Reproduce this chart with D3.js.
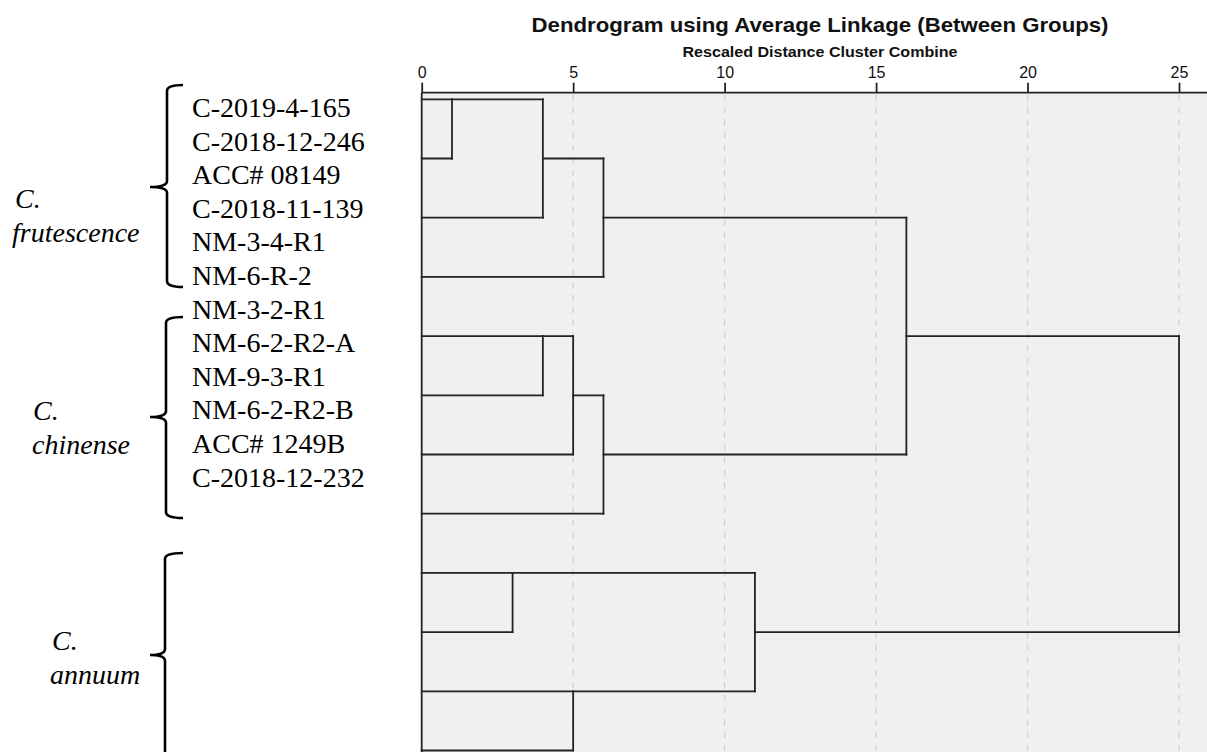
<!DOCTYPE html>
<html><head><meta charset="utf-8">
<script src="https://cdn.jsdelivr.net/npm/d3@7"></script>
<style>body{margin:0;background:#fff}svg{display:block}</style>
</head><body><svg id="c" width="1207" height="752"></svg>
<script>
// ---------- DATA ----------
const tickValues = [0, 5, 10, 15, 20, 25];
const leafCount = 12;                                  // dendrogram leaves (rows, top to bottom)
// merges in order; ids 0..11 are leaves, id 12+k is merge k
const mergeA    = [0, 12, 13, 4, 15, 16, 14, 8, 10, 19, 18];
const mergeB    = [1,  2,  3, 5,  6,  7, 17, 9, 11, 20, 21];
const mergeDist = [1,  4,  6, 4,  5,  6, 16, 3,  5, 11, 25];
const sampleLabels = ["C-2019-4-165", "C-2018-12-246", "ACC# 08149", "C-2018-11-139", "NM-3-4-R1", "NM-6-R-2",
                      "NM-3-2-R1", "NM-6-2-R2-A", "NM-9-3-R1", "NM-6-2-R2-B", "ACC# 1249B", "C-2018-12-232"];
const speciesGenus = ["C.", "C.", "C."];
const speciesName  = ["frutescence", "chinense", "annuum"];
const titleText = "Dendrogram using Average Linkage (Between Groups)";
const subtitleText = "Rescaled Distance Cluster Combine";

// ---------- LAYOUT ----------
const W = 1207, H = 752;
const svg = d3.select("#c");
const x = d3.scaleLinear().domain([0, 25]).range([421.7, 1179]);
const y = d3.scaleLinear().domain([0, leafCount - 1]).range([99.3, 750.5]);
const labelY = d3.scaleLinear().domain([0, sampleLabels.length - 1]).range([117, 486.6]);
const axisY = 92.7;
const lineColor = "#222";
const lw = 1.8;

// node rows and distances
const row = [], dist = [];
for (let i = 0; i < leafCount; i++) { row[i] = i; dist[i] = 0; }
mergeA.forEach((a, k) => {
  const b = mergeB[k], id = leafCount + k;
  row[id] = Math.floor((row[a] + row[b]) / 2);
  dist[id] = mergeDist[k];
});

// background
svg.append("rect").attr("x", x(0)).attr("y", axisY).attr("width", W - x(0)).attr("height", H - axisY)
  .attr("fill", "#f0f0f0");

// dashed grid
svg.append("g").selectAll("line").data(tickValues.filter(t => t > 0)).join("line")
  .attr("x1", d => x(d)).attr("x2", d => x(d)).attr("y1", axisY + 2).attr("y2", H)
  .attr("stroke", "#d2d2d2").attr("stroke-width", 1.4).attr("stroke-dasharray", "6,6.5");

// top axis
const axis = d3.axisTop(x).tickValues(tickValues).tickSize(10).tickSizeOuter(0).tickPadding(4.7);
const ag = svg.append("g").attr("transform", `translate(0,${axisY})`).call(axis);
ag.select(".domain").remove();
ag.selectAll(".tick line").attr("stroke", lineColor).attr("stroke-width", lw);
ag.selectAll(".tick text").attr("font-family", "Liberation Sans, Arial, sans-serif").attr("font-size", 16)
  .attr("fill", "#111");
svg.append("line").attr("x1", x(0)).attr("x2", W).attr("y1", axisY).attr("y2", axisY)
  .attr("stroke", lineColor).attr("stroke-width", lw);
svg.append("line").attr("x1", x(0)).attr("x2", x(0)).attr("y1", axisY).attr("y2", H)
  .attr("stroke", lineColor).attr("stroke-width", lw);

// dendrogram links
const segs = [];
mergeA.forEach((a, k) => {
  const b = mergeB[k], id = leafCount + k;
  segs.push([x(dist[id]), y(row[a]), x(dist[id]), y(row[b])]);
  [a, b].forEach(c => segs.push([x(dist[c]), y(row[c]), x(dist[id]), y(row[c])]));
});
svg.append("g").selectAll("line").data(segs).join("line")
  .attr("x1", d => d[0]).attr("y1", d => d[1]).attr("x2", d => d[2]).attr("y2", d => d[3])
  .attr("stroke", lineColor).attr("stroke-width", lw).attr("stroke-linecap", "square");

// titles
svg.append("text").attr("x", 820).attr("y", 32).attr("text-anchor", "middle")
  .attr("font-family", "Liberation Sans, Arial, sans-serif").attr("font-weight", "bold").attr("font-size", 21)
  .attr("textLength", 577).attr("lengthAdjust", "spacingAndGlyphs").attr("fill", "#111").text(titleText);
svg.append("text").attr("x", 820).attr("y", 56.5).attr("text-anchor", "middle")
  .attr("font-family", "Liberation Sans, Arial, sans-serif").attr("font-weight", "bold").attr("font-size", 14)
  .attr("textLength", 275).attr("lengthAdjust", "spacingAndGlyphs").attr("fill", "#111").text(subtitleText);

// sample labels
svg.append("g").selectAll("text").data(sampleLabels).join("text")
  .attr("x", 192).attr("y", (d, i) => labelY(i))
  .attr("font-family", "Liberation Serif, Times New Roman, serif").attr("font-size", 28).attr("fill", "#000")
  .text(d => d);

// species labels and braces
const speciesPos = [ {gx: 15, nx: 12, by: 208, top: 85, mid: 187, bot: 287, vx: 167},
                     {gx: 33, nx: 32, by: 420, top: 317, mid: 417, bot: 518, vx: 166},
                     {gx: 52, nx: 50, by: 650, top: 553, mid: 655, bot: 757, vx: 165} ];
speciesName.forEach((nm, i) => {
  const p = speciesPos[i];
  const t = svg.append("text").attr("font-family", "Liberation Serif, Times New Roman, serif")
    .attr("font-size", 28).attr("font-style", "italic").attr("fill", "#000");
  t.append("tspan").attr("x", p.gx).attr("y", p.by).text(speciesGenus[i]);
  t.append("tspan").attr("x", p.nx).attr("y", p.by + 34).text(nm);
  const r = 6, xr = 183, xt = 150, v = p.vx;
  const path = `M${xr},${p.top} Q${v},${p.top} ${v},${p.top + r} L${v},${p.mid - r} Q${v},${p.mid} ${xt},${p.mid}` +
               ` Q${v},${p.mid} ${v},${p.mid + r} L${v},${p.bot - r} Q${v},${p.bot} ${xr},${p.bot}`;
  svg.append("path").attr("d", path).attr("fill", "none").attr("stroke", "#000").attr("stroke-width", 2.6);
});
</script></body></html>
